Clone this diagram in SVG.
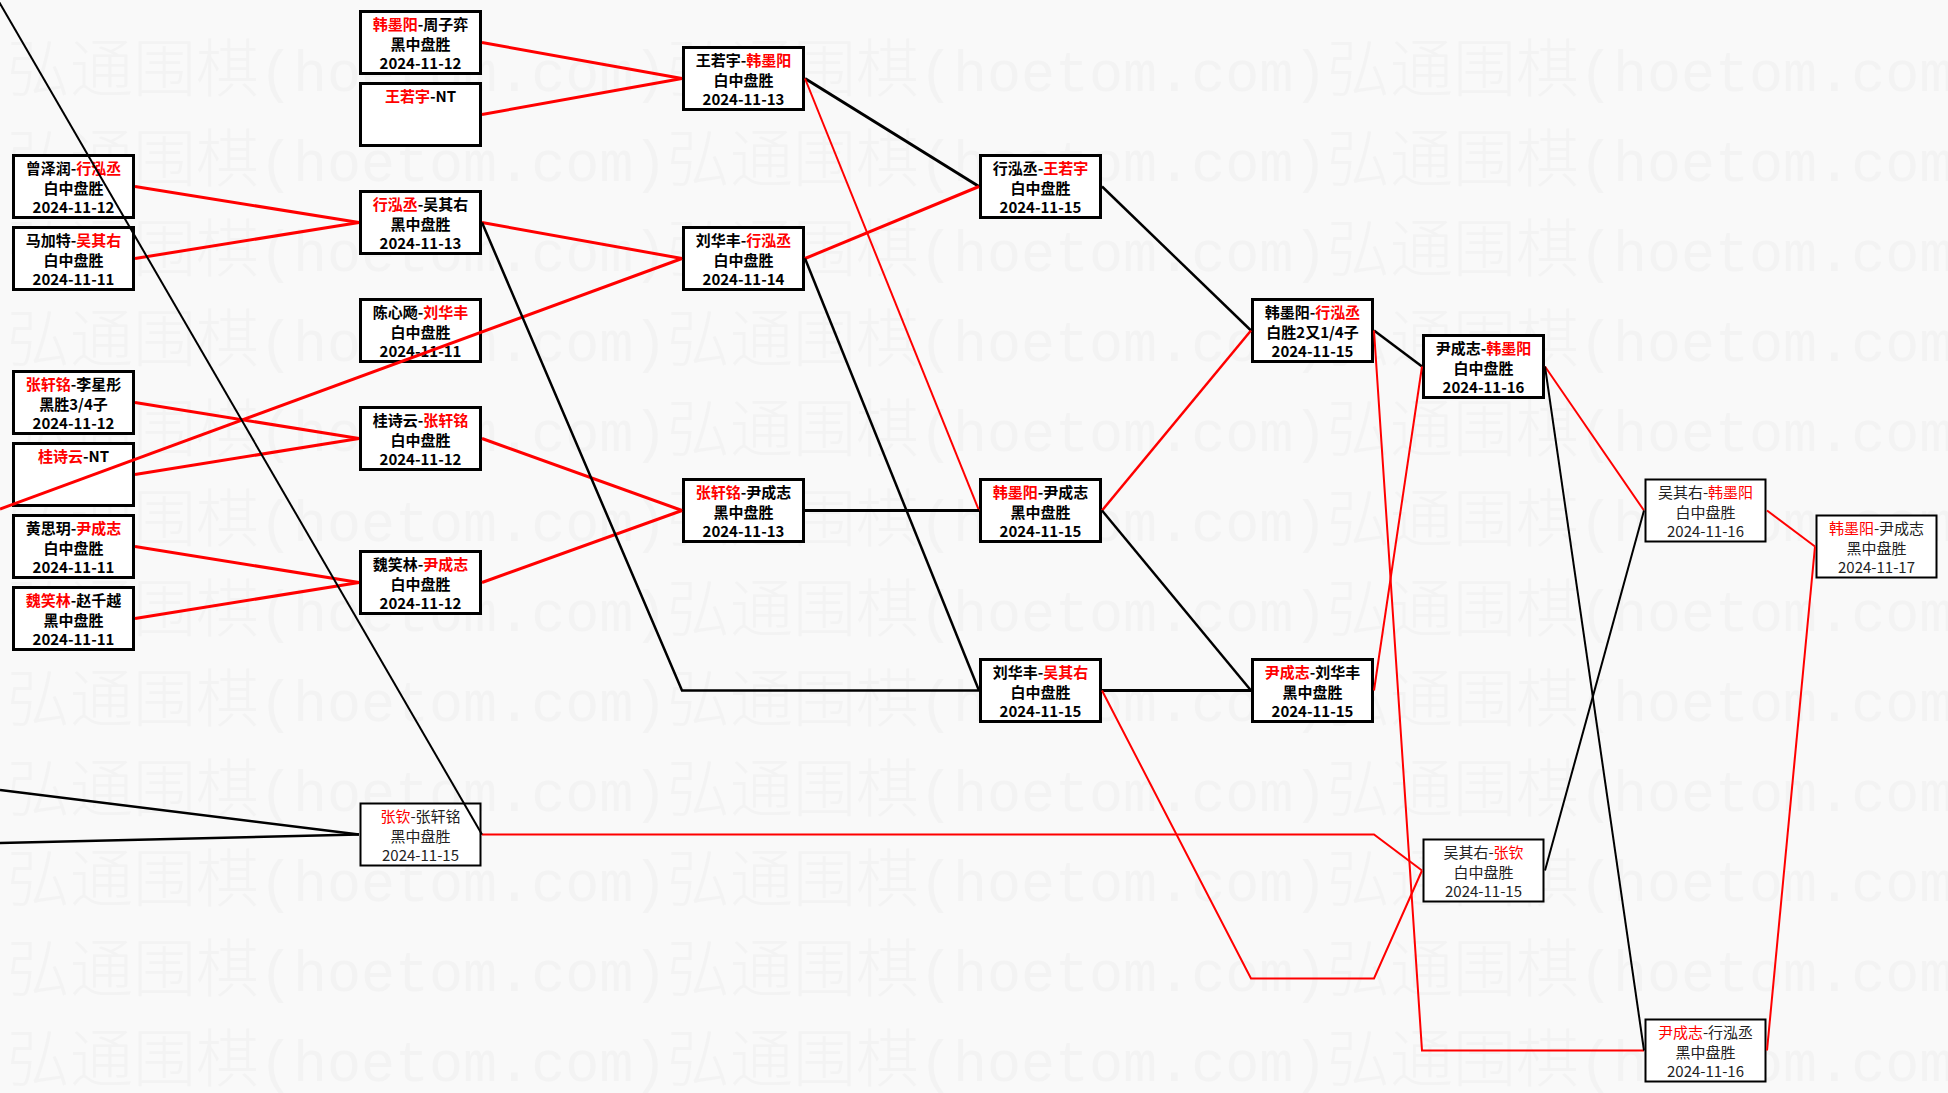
<svg xmlns="http://www.w3.org/2000/svg" width="1948" height="1093" viewBox="0 0 1948 1093">
<style>
.bg{fill:#f9f9f9}
.wm{fill:#f3f3f3}
.wc{font-family:"Noto Sans CJK SC",sans-serif;font-size:63px;font-weight:300}
.wl{font-family:"Liberation Mono",monospace;font-size:56.7px}
.node rect{fill:#ffffff;stroke:#000000;stroke-width:3}
.node.thin rect{stroke-width:2}
.node text{font-family:"Noto Sans CJK SC",sans-serif;font-size:15px;text-anchor:middle;fill:#000000;font-weight:bold}
.node.thin text{font-weight:normal;fill:#222222}
.node text .r{fill:#ff0000}
.cn path{fill:none;stroke-linejoin:miter}
.cn .r{stroke:#ff0000}
.cn .k{stroke:#000000}
.w3{stroke-width:3}
.w25{stroke-width:2.5}
.w2{stroke-width:2}
</style>
<rect class="bg" x="0" y="0" width="1948" height="1093"/>
<g id="watermark" class="wm">
<text y="91"><tspan class="wc" x="7">弘通围棋</tspan><tspan class="wl">(hoetom.com)</tspan><tspan class="wc" x="667">弘通围棋</tspan><tspan class="wl">(hoetom.com)</tspan><tspan class="wc" x="1327">弘通围棋</tspan><tspan class="wl">(hoetom.com)</tspan></text>
<text y="181"><tspan class="wc" x="7">弘通围棋</tspan><tspan class="wl">(hoetom.com)</tspan><tspan class="wc" x="667">弘通围棋</tspan><tspan class="wl">(hoetom.com)</tspan><tspan class="wc" x="1327">弘通围棋</tspan><tspan class="wl">(hoetom.com)</tspan></text>
<text y="271"><tspan class="wc" x="7">弘通围棋</tspan><tspan class="wl">(hoetom.com)</tspan><tspan class="wc" x="667">弘通围棋</tspan><tspan class="wl">(hoetom.com)</tspan><tspan class="wc" x="1327">弘通围棋</tspan><tspan class="wl">(hoetom.com)</tspan></text>
<text y="361"><tspan class="wc" x="7">弘通围棋</tspan><tspan class="wl">(hoetom.com)</tspan><tspan class="wc" x="667">弘通围棋</tspan><tspan class="wl">(hoetom.com)</tspan><tspan class="wc" x="1327">弘通围棋</tspan><tspan class="wl">(hoetom.com)</tspan></text>
<text y="451"><tspan class="wc" x="7">弘通围棋</tspan><tspan class="wl">(hoetom.com)</tspan><tspan class="wc" x="667">弘通围棋</tspan><tspan class="wl">(hoetom.com)</tspan><tspan class="wc" x="1327">弘通围棋</tspan><tspan class="wl">(hoetom.com)</tspan></text>
<text y="541"><tspan class="wc" x="7">弘通围棋</tspan><tspan class="wl">(hoetom.com)</tspan><tspan class="wc" x="667">弘通围棋</tspan><tspan class="wl">(hoetom.com)</tspan><tspan class="wc" x="1327">弘通围棋</tspan><tspan class="wl">(hoetom.com)</tspan></text>
<text y="631"><tspan class="wc" x="7">弘通围棋</tspan><tspan class="wl">(hoetom.com)</tspan><tspan class="wc" x="667">弘通围棋</tspan><tspan class="wl">(hoetom.com)</tspan><tspan class="wc" x="1327">弘通围棋</tspan><tspan class="wl">(hoetom.com)</tspan></text>
<text y="721"><tspan class="wc" x="7">弘通围棋</tspan><tspan class="wl">(hoetom.com)</tspan><tspan class="wc" x="667">弘通围棋</tspan><tspan class="wl">(hoetom.com)</tspan><tspan class="wc" x="1327">弘通围棋</tspan><tspan class="wl">(hoetom.com)</tspan></text>
<text y="811"><tspan class="wc" x="7">弘通围棋</tspan><tspan class="wl">(hoetom.com)</tspan><tspan class="wc" x="667">弘通围棋</tspan><tspan class="wl">(hoetom.com)</tspan><tspan class="wc" x="1327">弘通围棋</tspan><tspan class="wl">(hoetom.com)</tspan></text>
<text y="901"><tspan class="wc" x="7">弘通围棋</tspan><tspan class="wl">(hoetom.com)</tspan><tspan class="wc" x="667">弘通围棋</tspan><tspan class="wl">(hoetom.com)</tspan><tspan class="wc" x="1327">弘通围棋</tspan><tspan class="wl">(hoetom.com)</tspan></text>
<text y="991"><tspan class="wc" x="7">弘通围棋</tspan><tspan class="wl">(hoetom.com)</tspan><tspan class="wc" x="667">弘通围棋</tspan><tspan class="wl">(hoetom.com)</tspan><tspan class="wc" x="1327">弘通围棋</tspan><tspan class="wl">(hoetom.com)</tspan></text>
<text y="1081"><tspan class="wc" x="7">弘通围棋</tspan><tspan class="wl">(hoetom.com)</tspan><tspan class="wc" x="667">弘通围棋</tspan><tspan class="wl">(hoetom.com)</tspan><tspan class="wc" x="1327">弘通围棋</tspan><tspan class="wl">(hoetom.com)</tspan></text>
</g>
<g id="nodes">
<g id="n-c1-1" class="node" transform="translate(12,154)"><rect x="1.5" y="1.5" width="120" height="62"/><text x="61.5" y="19.5">曾泽润-<tspan class="r">行泓丞</tspan></text><text x="61.5" y="39.5">白中盘胜</text><text x="61.5" y="58.5">2024-11-12</text></g>
<g id="n-c1-2" class="node" transform="translate(12,226)"><rect x="1.5" y="1.5" width="120" height="62"/><text x="61.5" y="19.5">马加特-<tspan class="r">吴其右</tspan></text><text x="61.5" y="39.5">白中盘胜</text><text x="61.5" y="58.5">2024-11-11</text></g>
<g id="n-c1-3" class="node" transform="translate(12,370)"><rect x="1.5" y="1.5" width="120" height="62"/><text x="61.5" y="19.5"><tspan class="r">张轩铭</tspan>-李星彤</text><text x="61.5" y="39.5">黑胜3/4子</text><text x="61.5" y="58.5">2024-11-12</text></g>
<g id="n-c1-4" class="node" transform="translate(12,442)"><rect x="1.5" y="1.5" width="120" height="62"/><text x="61.5" y="19.5"><tspan class="r">桂诗云</tspan>-NT</text></g>
<g id="n-c1-5" class="node" transform="translate(12,514)"><rect x="1.5" y="1.5" width="120" height="62"/><text x="61.5" y="19.5">黄思玥-<tspan class="r">尹成志</tspan></text><text x="61.5" y="39.5">白中盘胜</text><text x="61.5" y="58.5">2024-11-11</text></g>
<g id="n-c1-6" class="node" transform="translate(12,586)"><rect x="1.5" y="1.5" width="120" height="62"/><text x="61.5" y="19.5"><tspan class="r">魏笑林</tspan>-赵千越</text><text x="61.5" y="39.5">黑中盘胜</text><text x="61.5" y="58.5">2024-11-11</text></g>

<g id="n-c2-1" class="node" transform="translate(359,10)"><rect x="1.5" y="1.5" width="120" height="62"/><text x="61.5" y="19.5"><tspan class="r">韩墨阳</tspan>-周子弈</text><text x="61.5" y="39.5">黑中盘胜</text><text x="61.5" y="58.5">2024-11-12</text></g>
<g id="n-c2-2" class="node" transform="translate(359,82)"><rect x="1.5" y="1.5" width="120" height="62"/><text x="61.5" y="19.5"><tspan class="r">王若宇</tspan>-NT</text></g>
<g id="n-c2-3" class="node" transform="translate(359,190)"><rect x="1.5" y="1.5" width="120" height="62"/><text x="61.5" y="19.5"><tspan class="r">行泓丞</tspan>-吴其右</text><text x="61.5" y="39.5">黑中盘胜</text><text x="61.5" y="58.5">2024-11-13</text></g>
<g id="n-c2-4" class="node" transform="translate(359,298)"><rect x="1.5" y="1.5" width="120" height="62"/><text x="61.5" y="19.5">陈心飏-<tspan class="r">刘华丰</tspan></text><text x="61.5" y="39.5">白中盘胜</text><text x="61.5" y="58.5">2024-11-11</text></g>
<g id="n-c2-5" class="node" transform="translate(359,406)"><rect x="1.5" y="1.5" width="120" height="62"/><text x="61.5" y="19.5">桂诗云-<tspan class="r">张轩铭</tspan></text><text x="61.5" y="39.5">白中盘胜</text><text x="61.5" y="58.5">2024-11-12</text></g>
<g id="n-c2-6" class="node" transform="translate(359,550)"><rect x="1.5" y="1.5" width="120" height="62"/><text x="61.5" y="19.5">魏笑林-<tspan class="r">尹成志</tspan></text><text x="61.5" y="39.5">白中盘胜</text><text x="61.5" y="58.5">2024-11-12</text></g>
<g id="n-c2-7" class="node thin" transform="translate(359,802)"><rect x="1.5" y="1.5" width="120" height="62"/><text x="61.5" y="19.5"><tspan class="r">张钦</tspan>-张轩铭</text><text x="61.5" y="39.5">黑中盘胜</text><text x="61.5" y="58.5">2024-11-15</text></g>

<g id="n-c3-1" class="node" transform="translate(682,46)"><rect x="1.5" y="1.5" width="120" height="62"/><text x="61.5" y="19.5">王若宇-<tspan class="r">韩墨阳</tspan></text><text x="61.5" y="39.5">白中盘胜</text><text x="61.5" y="58.5">2024-11-13</text></g>
<g id="n-c3-2" class="node" transform="translate(682,226)"><rect x="1.5" y="1.5" width="120" height="62"/><text x="61.5" y="19.5">刘华丰-<tspan class="r">行泓丞</tspan></text><text x="61.5" y="39.5">白中盘胜</text><text x="61.5" y="58.5">2024-11-14</text></g>
<g id="n-c3-3" class="node" transform="translate(682,478)"><rect x="1.5" y="1.5" width="120" height="62"/><text x="61.5" y="19.5"><tspan class="r">张轩铭</tspan>-尹成志</text><text x="61.5" y="39.5">黑中盘胜</text><text x="61.5" y="58.5">2024-11-13</text></g>

<g id="n-c4-1" class="node" transform="translate(979,154)"><rect x="1.5" y="1.5" width="120" height="62"/><text x="61.5" y="19.5">行泓丞-<tspan class="r">王若宇</tspan></text><text x="61.5" y="39.5">白中盘胜</text><text x="61.5" y="58.5">2024-11-15</text></g>
<g id="n-c4-2" class="node" transform="translate(979,478)"><rect x="1.5" y="1.5" width="120" height="62"/><text x="61.5" y="19.5"><tspan class="r">韩墨阳</tspan>-尹成志</text><text x="61.5" y="39.5">黑中盘胜</text><text x="61.5" y="58.5">2024-11-15</text></g>
<g id="n-c4-3" class="node" transform="translate(979,658)"><rect x="1.5" y="1.5" width="120" height="62"/><text x="61.5" y="19.5">刘华丰-<tspan class="r">吴其右</tspan></text><text x="61.5" y="39.5">白中盘胜</text><text x="61.5" y="58.5">2024-11-15</text></g>

<g id="n-c5-1" class="node" transform="translate(1251,298)"><rect x="1.5" y="1.5" width="120" height="62"/><text x="61.5" y="19.5">韩墨阳-<tspan class="r">行泓丞</tspan></text><text x="61.5" y="39.5">白胜2又1/4子</text><text x="61.5" y="58.5">2024-11-15</text></g>
<g id="n-c5-2" class="node" transform="translate(1251,658)"><rect x="1.5" y="1.5" width="120" height="62"/><text x="61.5" y="19.5"><tspan class="r">尹成志</tspan>-刘华丰</text><text x="61.5" y="39.5">黑中盘胜</text><text x="61.5" y="58.5">2024-11-15</text></g>

<g id="n-c6-1" class="node" transform="translate(1422,334)"><rect x="1.5" y="1.5" width="120" height="62"/><text x="61.5" y="19.5">尹成志-<tspan class="r">韩墨阳</tspan></text><text x="61.5" y="39.5">白中盘胜</text><text x="61.5" y="58.5">2024-11-16</text></g>
<g id="n-c6-2" class="node thin" transform="translate(1422,838)"><rect x="1.5" y="1.5" width="120" height="62"/><text x="61.5" y="19.5">吴其右-<tspan class="r">张钦</tspan></text><text x="61.5" y="39.5">白中盘胜</text><text x="61.5" y="58.5">2024-11-15</text></g>

<g id="n-c7-1" class="node thin" transform="translate(1644,478)"><rect x="1.5" y="1.5" width="120" height="62"/><text x="61.5" y="19.5">吴其右-<tspan class="r">韩墨阳</tspan></text><text x="61.5" y="39.5">白中盘胜</text><text x="61.5" y="58.5">2024-11-16</text></g>
<g id="n-c7-2" class="node thin" transform="translate(1644,1018)"><rect x="1.5" y="1.5" width="120" height="62"/><text x="61.5" y="19.5"><tspan class="r">尹成志</tspan>-行泓丞</text><text x="61.5" y="39.5">黑中盘胜</text><text x="61.5" y="58.5">2024-11-16</text></g>

<g id="n-c8-1" class="node thin" transform="translate(1815,514)"><rect x="1.5" y="1.5" width="120" height="62"/><text x="61.5" y="19.5"><tspan class="r">韩墨阳</tspan>-尹成志</text><text x="61.5" y="39.5">黑中盘胜</text><text x="61.5" y="58.5">2024-11-17</text></g>
</g>
<g id="connectors" class="cn">
<path class="r w3" d="M135,186.5 L359,222.5"/>
<path class="r w3" d="M135,258.5 L359,222.5"/>
<path class="r w3" d="M135,402.5 L359,438.5"/>
<path class="r w3" d="M135,474.5 L359,438.5"/>
<path class="r w3" d="M135,546.5 L359,582.5"/>
<path class="r w3" d="M135,618.5 L359,582.5"/>
<path class="r w3" d="M482,42.5 L682,78.5"/>
<path class="r w3" d="M482,114.5 L682,78.5"/>
<path class="r w3" d="M482,222.5 L682,258.5"/>
<path class="r w3" d="M0,509 L682,258.5"/>
<path class="r w3" d="M482,438.5 L682,510.5"/>
<path class="r w3" d="M482,582.5 L682,510.5"/>
<path class="k w25" d="M482,222.5 L682,690.5 L979,690.5"/>
<path class="k w3" d="M805,78.5 L979,186.5"/>
<path class="r w3" d="M805,258.5 L979,186.5"/>
<path class="r w2" d="M805,78.5 L979,510.5"/>
<path class="k w3" d="M805,510.5 L979,510.5"/>
<path class="k w25" d="M805,258.5 L979,690.5"/>
<path class="k w25" d="M1102,186.5 L1251,330.5"/>
<path class="r w25" d="M1102,510.5 L1251,330.5"/>
<path class="k w25" d="M1102,510.5 L1251,690.5"/>
<path class="k w3" d="M1102,690.5 L1251,690.5"/>
<path class="r w2" d="M1102,690.5 L1251,978.5 L1374,978.5 L1422,870.5"/>
<path class="k w25" d="M1374,330.5 L1422,366.5"/>
<path class="r w2" d="M1374,330.5 L1422,1050.5 L1644,1050.5"/>
<path class="r w2" d="M1374,690.5 L1422,366.5"/>
<path class="r w2" d="M482,834.5 L1374,834.5 L1422,870.5"/>
<path class="r w2" d="M1545,366.5 L1644,510.5"/>
<path class="k w2" d="M1545,366.5 L1644,1050.5"/>
<path class="k w2" d="M1545,870.5 L1644,510.5"/>
<path class="r w2" d="M1767,510.5 L1815,546.5"/>
<path class="r w2" d="M1767,1050.5 L1815,546.5"/>
<path class="k w2" d="M-2,0 L482,834.5"/>
<path class="k w25" d="M0,790 L359,834.5"/>
<path class="k w25" d="M0,843 L359,834.5"/>
</g>
</svg>
